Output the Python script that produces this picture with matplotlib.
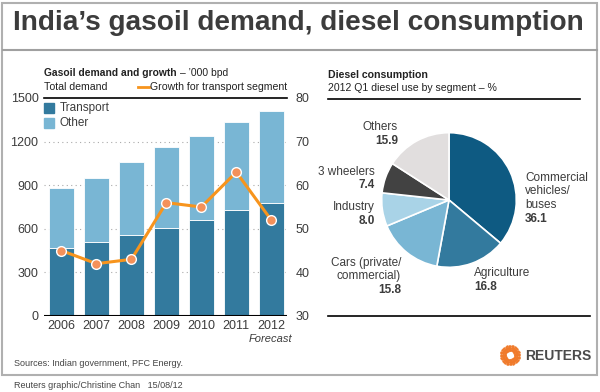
import numpy as np
import matplotlib
matplotlib.use("Agg")
import matplotlib.pyplot as plt
from matplotlib.patches import Rectangle

plt.rcParams['font.family'] = ['Liberation Sans', 'DejaVu Sans']

years = ["2006", "2007", "2008", "2009", "2010", "2011", "2012"]
total_demand = [880, 950, 1060, 1165, 1240, 1333, 1410]
transport = [470, 510, 555, 608, 663, 727, 778]
growth = [45, 42, 43, 56, 55, 63, 52]

segments = ["Commercial\nvehicles/\nbuses", "Agriculture", "Cars (private/\ncommercial)",
            "Industry", "3 wheelers", "Others"]
shares = [36.1, 16.8, 15.8, 8.0, 7.4, 15.9]

W, H = 600, 392
DARK = "#337a9e"
LIGHT = "#79b6d4"
ORANGE = "#f7941d"
TXT = "#3c3c3c"

def box(x0, y0, x1, y1):
    # pixel coords (top-left origin) -> figure fraction rect
    return [x0 / W, (H - y1) / H, (x1 - x0) / W, (y1 - y0) / H]

fig = plt.figure(figsize=(6, 3.92), dpi=100)
fig.patch.set_facecolor("white")
renderer = fig.canvas.get_renderer()

def bold_then_plain(px, py, bold, plain, size):
    t = fig.text(px / W, 1 - py / H, bold, fontsize=size, fontweight="bold",
                 color="#222222", va="center")
    bb = t.get_window_extent(renderer=renderer)
    fig.text(bb.x1 / W + 3 / W, 1 - py / H, plain, fontsize=size, color="#222222", va="center")

# frame and title
fig.add_artist(Rectangle((2 / W, (H - 375) / H), 595 / W, 372 / H, transform=fig.transFigure,
                         fill=False, edgecolor="#b0b0b0", linewidth=1.5))
fig.add_artist(plt.Line2D([3 / W, 597 / W], [(H - 50) / H] * 2, color="#a0a0a0", lw=1.5))
fig.text(13 / W, 1 - 23 / H, "India\u2019s gasoil demand, diesel consumption", fontsize=20.2,
         fontweight="bold", color=TXT, va="center", ha="left")

# ---- left: bar + line chart
ax = fig.add_axes(box(44, 98, 287, 316))
x = np.arange(len(years))
other = [t - tr for t, tr in zip(total_demand, transport)]
ax.bar(x, transport, width=0.72, color=DARK, edgecolor="white", linewidth=0.6, zorder=2)
ax.bar(x, other, bottom=transport, width=0.72, color=LIGHT, edgecolor="white", linewidth=0.6, zorder=2)
ax.set_xlim(-0.5, 6.45)
ax.set_ylim(0, 1500)
ax.set_yticks([0, 300, 600, 900, 1200, 1500])
ax.set_xticks(x)
ax.set_xticklabels(years)
for v in [300, 600, 900, 1200]:
    ax.axhline(v, color="#aaaaaa", lw=0.8, ls=(0, (1, 3)), zorder=1)
for s in ["left", "right", "bottom"]:
    ax.spines[s].set_visible(False)
ax.spines["top"].set_color("black")
ax.spines["top"].set_linewidth(1.2)
ax.axhline(0, color="black", lw=1.5, zorder=3)
ax.tick_params(axis="both", length=0, labelsize=9, colors=TXT, pad=4)
ax.tick_params(axis="x", pad=3)

ax2 = ax.twinx()
ax2.plot(x, growth, color=ORANGE, lw=2.2, marker="o", markersize=7,
         markerfacecolor="#f4915a", markeredgecolor="white", markeredgewidth=1, zorder=4)
ax2.set_ylim(30, 80)
ax2.set_yticks([30, 40, 50, 60, 70, 80])
for s in ax2.spines.values():
    s.set_visible(False)
ax2.tick_params(axis="y", length=0, labelsize=9, colors=TXT, pad=6)

bold_then_plain(44, 73, "Gasoil demand and growth", "\u2013 \u2019000 bpd", 7.4)
fig.text(44 / W, 1 - 87 / H, "Total demand", fontsize=7.6, color="#222222", va="center")
fig.add_artist(plt.Line2D([138 / W, 149 / W], [(H - 87) / H] * 2, color=ORANGE, lw=2))
fig.text(150 / W, 1 - 87 / H, "Growth for transport segment", fontsize=7.6, color="#222222", va="center")
fig.text(270 / W, 1 - 339 / H, "Forecast", fontsize=8, style="italic", color=TXT, ha="center", va="center")

# legend squares
for i, (lab, col) in enumerate([("Transport", DARK), ("Other", LIGHT)]):
    yc = 108 + i * 15
    fig.add_artist(Rectangle((44 / W, (H - yc - 5) / H), 10 / W, 10 / H,
                             transform=fig.transFigure, color=col))
    fig.text(60 / W, 1 - yc / H, lab, fontsize=8.5, color=TXT, va="center")

# ---- right: pie
pie_colors = ["#0e5a82", "#337a9e", "#79b6d4", "#a9d3e7", "#424242", "#e1dede"]
r = 68
pax = fig.add_axes(box(449 - r, 200 - r, 449 + r, 200 + r))
pax.pie(shares, startangle=90, counterclock=False, colors=pie_colors,
        wedgeprops=dict(edgecolor="white", linewidth=1.2))
pax.set_xlim(-1.01, 1.01)
pax.set_ylim(-1.01, 1.01)
pax.set_aspect("equal")

bold_then_plain(328, 75, "Diesel consumption", "", 7.6)
fig.text(328 / W, 1 - 88 / H, "2012 Q1 diesel use by segment \u2013 %", fontsize=7.6,
         color="#222222", va="center")
fig.add_artist(plt.Line2D([328 / W, 580 / W], [(H - 99) / H] * 2, color="black", lw=1.2))

lab_pos = [(525, 178, "left"), (474, 273, "left"), (401, 263, "right"),
           (375, 207, "right"), (375, 172, "right"), (398, 127, "right")]
for (px, py, ha), name, val in zip(lab_pos, segments, shares):
    n = name.count("\n") + 1
    for k, line in enumerate(name.split("\n")):
        fig.text(px / W, 1 - (py + k * 13.5) / H, line, fontsize=8.5, color=TXT, ha=ha, va="center")
    fig.text(px / W, 1 - (py + n * 13.5) / H, f"{val:.1f}", fontsize=8.5, fontweight="bold",
             color=TXT, ha=ha, va="center")

fig.add_artist(plt.Line2D([328 / W, 590 / W], [(H - 316) / H] * 2, color="black", lw=1.2))

# footer
fig.text(14 / W, 1 - 364 / H, "Sources: Indian government, PFC Energy.", fontsize=6.5,
         color="#444444", va="center")
fig.text(14 / W, 1 - 385 / H, "Reuters graphic/Christine Chan   15/08/12", fontsize=6.5,
         color="#444444", va="center")

# logo
lax = fig.add_axes(box(499, 344, 521, 366))
ang = np.linspace(0, 2 * np.pi, 36, endpoint=False)
for rr, sz in [(0.45, 3), (0.65, 4), (0.85, 3)]:
    lax.scatter(rr * np.cos(ang + rr), rr * np.sin(ang + rr), s=sz, color="#f07a2a", lw=0)
lax.set_xlim(-1, 1)
lax.set_ylim(-1, 1)
lax.axis("off")
fig.text(525 / W, 1 - 356 / H, "REUTERS", fontsize=10, fontweight="bold", color="#4a4a4a", va="center")

fig.savefig("out.png", dpi=100)
